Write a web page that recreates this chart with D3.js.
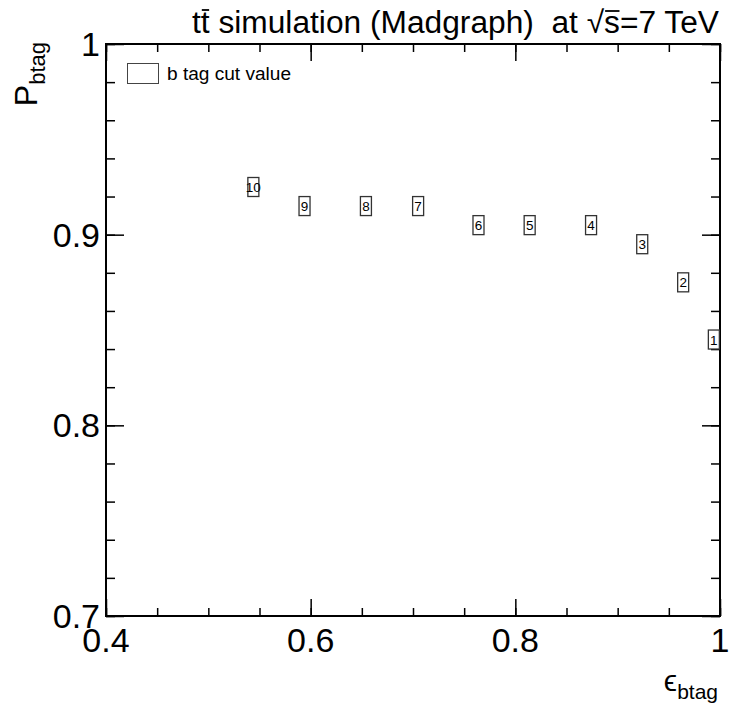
<!DOCTYPE html>
<html>
<head>
<meta charset="utf-8">
<script src="https://cdn.jsdelivr.net/npm/d3@7"></script>
<style>
  body { margin: 0; background: #fff; }
  svg { font-family: "Liberation Sans", Arial, sans-serif; }
</style>
</head>
<body>
<div id="chart"></div>
<script>
// b-tag cut value scan: efficiency vs purity
var cutValues = [10, 9, 8, 7, 6, 5, 4, 3, 2, 1];
var effBtag   = [0.544, 0.594, 0.654, 0.705, 0.764, 0.814, 0.874, 0.924, 0.964, 0.994];
var purBtag   = [0.925, 0.915, 0.915, 0.915, 0.905, 0.905, 0.905, 0.895, 0.875, 0.845];

var xMajor = [0.4, 0.6, 0.8, 1.0];
var yMajor = [0.7, 0.8, 0.9, 1.0];
var xTickLabels = ["0.4", "0.6", "0.8", "1"];
var yTickLabels = ["0.7", "0.8", "0.9", "1"];

var width = 730, height = 704;
var frame = { left: 106, right: 720, top: 44, bottom: 616 };

var svg = d3.select("#chart").append("svg")
    .attr("width", width)
    .attr("height", height);

var x = d3.scaleLinear().domain([0.4, 1.0]).range([frame.left, frame.right]);
var y = d3.scaleLinear().domain([0.7, 1.0]).range([frame.bottom, frame.top]);

var xMinor = d3.range(0, 13).map(function(i) { return +(0.4 + i * 0.05).toFixed(2); });
var yMinor = d3.range(0, 16).map(function(i) { return +(0.7 + i * 0.02).toFixed(2); });

// axes: ticks drawn inward on all four sides
function drawAxis(axis, tx, ty) {
    var g = svg.append("g").attr("transform", "translate(" + tx + "," + ty + ")").call(axis);
    g.select(".domain").remove();
    g.selectAll("line").attr("stroke", "#000").attr("stroke-width", 1.5);
    return g;
}
drawAxis(d3.axisBottom(x).tickValues(xMinor).tickSize(-8).tickFormat(""), 0, frame.bottom);
drawAxis(d3.axisBottom(x).tickValues(xMajor).tickSize(-17).tickFormat(""), 0, frame.bottom);
drawAxis(d3.axisTop(x).tickValues(xMinor).tickSize(-8).tickFormat(""), 0, frame.top);
drawAxis(d3.axisTop(x).tickValues(xMajor).tickSize(-17).tickFormat(""), 0, frame.top);
drawAxis(d3.axisLeft(y).tickValues(yMinor).tickSize(-9).tickFormat(""), frame.left, 0);
drawAxis(d3.axisLeft(y).tickValues(yMajor).tickSize(-18).tickFormat(""), frame.left, 0);
drawAxis(d3.axisRight(y).tickValues(yMinor).tickSize(-9).tickFormat(""), frame.right, 0);
drawAxis(d3.axisRight(y).tickValues(yMajor).tickSize(-18).tickFormat(""), frame.right, 0);

// frame
svg.append("rect")
    .attr("x", frame.left).attr("y", frame.top)
    .attr("width", frame.right - frame.left).attr("height", frame.bottom - frame.top)
    .attr("fill", "none").attr("stroke", "#000").attr("stroke-width", 2);

// tick labels
svg.selectAll(".xlab").data(xMajor).join("text")
    .attr("class", "xlab")
    .attr("x", function(d) { return x(d); })
    .attr("y", 652)
    .attr("text-anchor", "middle")
    .attr("font-size", 34)
    .text(function(d, i) { return xTickLabels[i]; });

svg.selectAll(".ylab").data(yMajor).join("text")
    .attr("class", "ylab")
    .attr("x", 100)
    .attr("y", function(d) { return y(d) + 12; })
    .attr("text-anchor", "end")
    .attr("font-size", 34)
    .text(function(d, i) { return yTickLabels[i]; });

// axis titles
var xt = svg.append("text").attr("x", 718).attr("y", 691).attr("text-anchor", "end").attr("font-size", 30);
xt.append("tspan").text("\u03F5");
xt.append("tspan").attr("dy", 8).attr("font-size", 21).text("btag");

var yt = svg.append("text").attr("transform", "translate(37,42) rotate(-90)")
    .attr("text-anchor", "end").attr("font-size", 32);
yt.append("tspan").text("P");
yt.append("tspan").attr("dy", 8).attr("font-size", 22).text("btag");

// title
var titleText = "tt simulation (Madgraph)  at \u221As=7 TeV";
var title = svg.append("text")
    .attr("x", 192).attr("y", 33)
    .attr("font-size", 31)
    .style("white-space", "pre")
    .attr("textLength", 527)
    .attr("lengthAdjust", "spacingAndGlyphs")
    .text(titleText);

// bars over second t and over s
var tnode = title.node();
function overbar(idx, yTop) {
    var e = tnode.getExtentOfChar(idx);
    svg.append("line")
        .attr("x1", e.x + 1).attr("x2", e.x + e.width - 0.5)
        .attr("y1", yTop).attr("y2", yTop)
        .attr("stroke", "#000").attr("stroke-width", 1.8);
}
overbar(1, 10);
overbar(titleText.indexOf("\u221A") + 1, 11);

// legend
svg.append("rect").attr("x", 127.5).attr("y", 63.5).attr("width", 31).attr("height", 20)
    .attr("fill", "#fff").attr("stroke", "#444").attr("stroke-width", 1);
svg.append("text").attr("x", 167).attr("y", 80).attr("font-size", 17.5)
    .attr("textLength", 124).attr("lengthAdjust", "spacingAndGlyphs")
    .text("b tag cut value");

// points: boxed cut value labels
var pts = svg.selectAll(".pt").data(cutValues).join("g")
    .attr("class", "pt")
    .attr("transform", function(d, i) { return "translate(" + x(effBtag[i]) + "," + y(purBtag[i]) + ")"; });
pts.append("rect")
    .attr("x", -5.5).attr("y", -9.5).attr("width", 11).attr("height", 19)
    .attr("fill", "#fff").attr("stroke", "#333").attr("stroke-width", 1.3);
pts.append("text")
    .attr("text-anchor", "middle").attr("y", 5)
    .attr("font-size", 13.5).attr("fill", "#000")
    .text(function(d) { return d; });
</script>
</body>
</html>
